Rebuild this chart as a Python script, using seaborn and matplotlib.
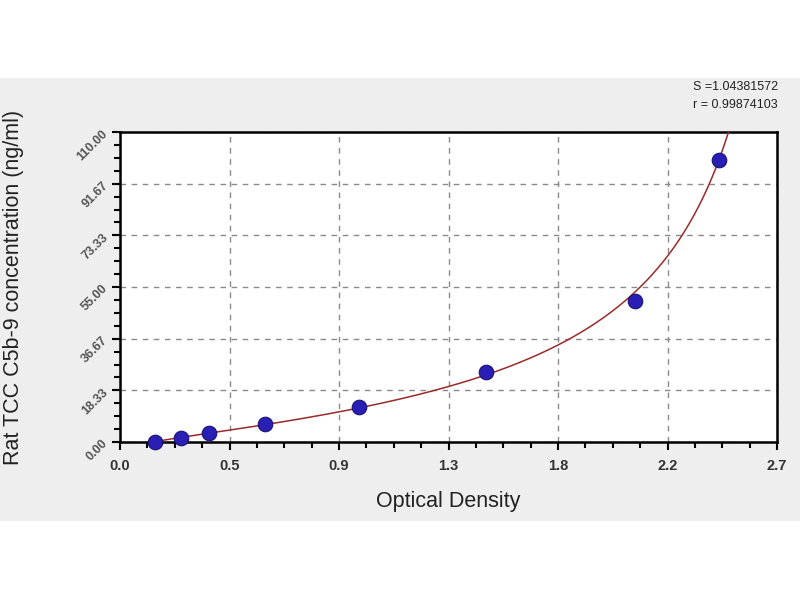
import numpy as np
import pandas as pd
import matplotlib
matplotlib.use("Agg")
import matplotlib.pyplot as plt
import seaborn as sns
from matplotlib.patches import Rectangle
from matplotlib.ticker import MultipleLocator, FixedLocator

# ---- data ----
optical_density = [0.142, 0.249, 0.366, 0.596, 0.981, 1.504, 2.115, 2.462]
concentration = [0.0, 1.56, 3.12, 6.25, 12.5, 25.0, 50.0, 100.0]
x_ticks = [0.0, 0.45, 0.9, 1.35, 1.8, 2.25, 2.7]
x_tick_labels = ["0.0", "0.5", "0.9", "1.3", "1.8", "2.2", "2.7"]
y_ticks = [0.0, 18.33, 36.67, 55.0, 73.33, 91.67, 110.0]
y_tick_labels = ["0.00", "18.33", "36.67", "55.00", "73.33", "91.67", "110.00"]
stat_lines = ["S =1.04381572", "r = 0.99874103"]
x_label = "Optical Density"
y_label = "Rat TCC C5b-9 concentration (ng/ml)"

df = pd.DataFrame({"od": optical_density, "conc": concentration})

# ---- standard-curve fit (inverse four-parameter logistic, least squares) ----
od = df["od"].to_numpy()
cc = df["conc"].to_numpy()
m = cc > 0
best = None
for A in np.linspace(0.08, od[0] - 1e-4, 50):
    for D in np.linspace(od.max() + 0.02, 4.5, 300):
        r = (od[m] - A) / (D - od[m])
        X = np.log(r)
        Y = np.log(cc[m])
        k, b = np.polyfit(X, Y, 1)
        pred = np.exp(b) * r ** k
        err = np.sum((pred - cc[m]) ** 2)
        if best is None or err < best[0]:
            best = (err, A, D, k, b)
_, A, D, k, b = best
xs = np.linspace(od[0], min(D - 1e-3, 2.7), 600)
ys = np.exp(b) * ((xs - A) / (D - xs)) ** k
fit = pd.DataFrame({"od": xs, "conc": ys})
fit = fit[fit["conc"] <= 112]

# ---- figure ----
sns.set_style("white")
plt.rcParams["font.family"] = ["Liberation Sans", "DejaVu Sans"]

fig = plt.figure(figsize=(8, 6), dpi=100, facecolor="white")
fig.patches.append(Rectangle((0, 1 - 521 / 600), 1, (521 - 78) / 600,
                             transform=fig.transFigure, facecolor="#eeeeee",
                             edgecolor="none", zorder=-10))
ax = fig.add_axes([120 / 800, 1 - 442 / 600, 657 / 800, 310 / 600])
ax.set_facecolor("white")

sns.lineplot(data=fit, x="od", y="conc", ax=ax, color="#9b2a2a",
             linewidth=1.1, sort=False, zorder=3)
sns.scatterplot(data=df, x="od", y="conc", ax=ax, color="#2a1fb5",
                edgecolor="#1a1270", linewidth=0.8, s=110, marker="o",
                zorder=4, clip_on=False)

ax.set_xlim(0, 2.7)
ax.set_ylim(0, 110)
ax.xaxis.set_major_locator(FixedLocator(x_ticks))
ax.set_xticklabels(x_tick_labels)
ax.yaxis.set_major_locator(FixedLocator(y_ticks))
ax.set_yticklabels(y_tick_labels, rotation=45, ha="right", va="center",
                   rotation_mode="anchor")
ax.xaxis.set_minor_locator(MultipleLocator(0.1125))
ax.yaxis.set_minor_locator(MultipleLocator(110 / 24))

ax.grid(True, which="major", linestyle=(0, (4, 4)), color="#8a8a8a",
        linewidth=1.0)
ax.set_axisbelow(True)

for s in ax.spines.values():
    s.set_visible(True)
    s.set_color("black")
    s.set_linewidth(1.8)

ax.tick_params(axis="both", which="both", bottom=True, left=True,
               top=False, right=False)
ax.tick_params(axis="both", which="major", direction="out", length=6,
               width=1.5, color="black")
ax.tick_params(axis="both", which="minor", direction="out", length=4,
               width=1.5, color="black")
ax.tick_params(axis="x", which="major", labelsize=10.5, labelcolor="#333333",
               pad=6)
ax.tick_params(axis="y", which="major", labelsize=9, labelcolor="#555555",
               pad=4)
for lab in ax.get_xticklabels():
    lab.set_fontweight("bold")
for lab in ax.get_yticklabels():
    lab.set_fontweight("bold")

ax.set_xlabel(x_label, fontsize=15.5, color="#222222")
ax.xaxis.set_label_coords(0.5, -(502 - 442) / 310, transform=ax.transAxes)
ax.xaxis.label.set_va("center")
ax.set_ylabel(y_label, fontsize=15.5, color="#222222")
ax.yaxis.set_label_coords(-(120 - 14) / 657, 0.5)
ax.yaxis.label.set_va("center")

fig.text(778 / 800, 1 - 87 / 600, stat_lines[0], ha="right", va="center",
         fontsize=9, color="#222222")
fig.text(778 / 800, 1 - 105 / 600, stat_lines[1], ha="right", va="center",
         fontsize=9, color="#222222")

fig.savefig("out.png", dpi=100, facecolor=fig.get_facecolor())
